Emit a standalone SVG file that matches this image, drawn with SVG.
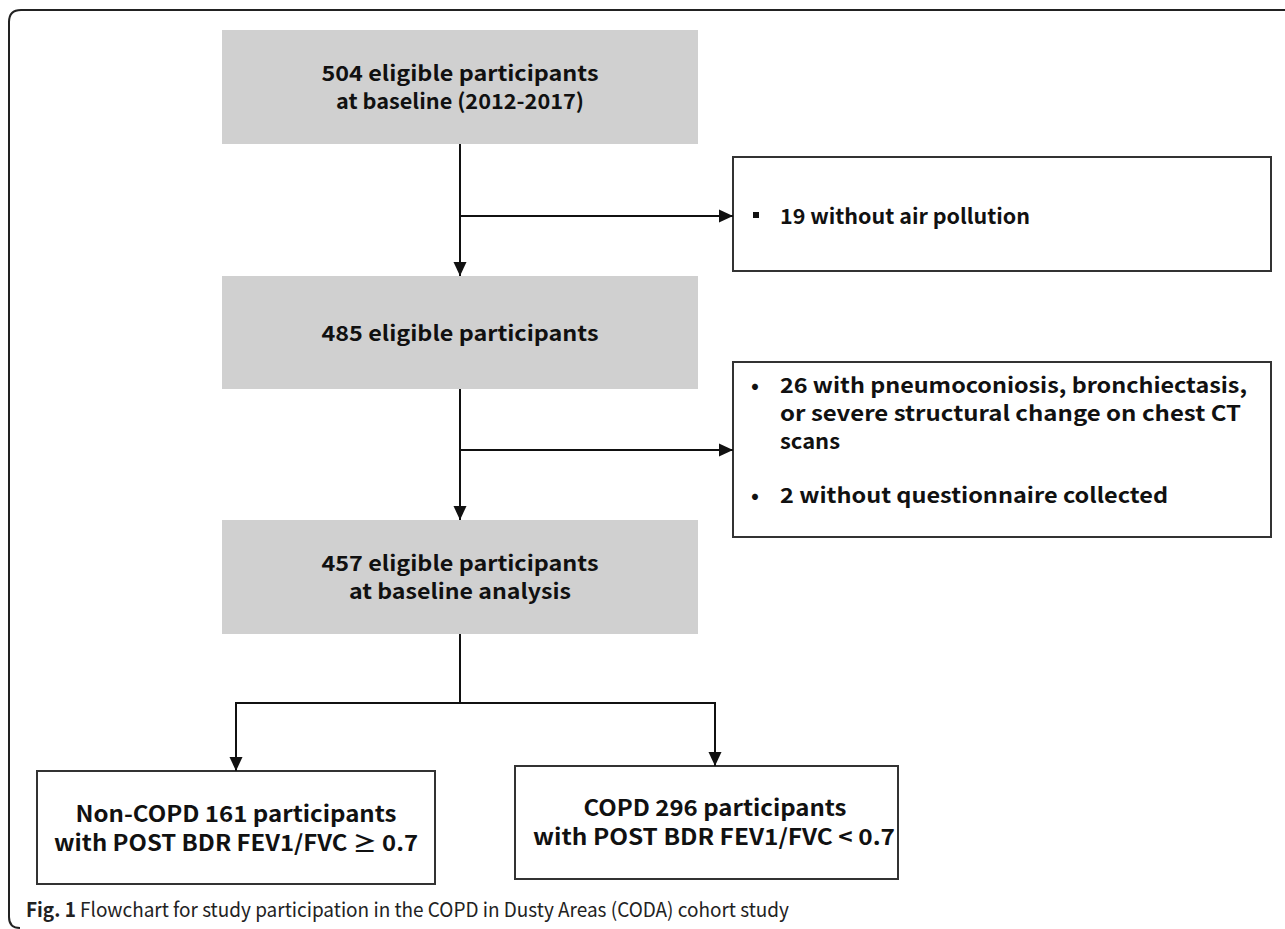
<svg xmlns="http://www.w3.org/2000/svg" width="1285" height="929" viewBox="0 0 1285 929">
<defs>
<marker id="ah" markerUnits="userSpaceOnUse" markerWidth="14" markerHeight="14" refX="14" refY="7" orient="auto">
<path d="M0,0.5 L14,7 L0,13.5 z" fill="#111"/>
</marker>
<style>
.gray{fill:#d0d0d0;stroke:none}
.wbox{fill:#fff;stroke:#333;stroke-width:2}
.t{font-family:"Noto Sans CJK KR","Noto Sans",sans-serif;font-weight:700;fill:#111;font-size:21px}
.tb{font-family:"Noto Sans CJK KR","Noto Sans",sans-serif;font-weight:700;fill:#111;font-size:22px}
.c{font-family:"Noto Sans CJK KR","Noto Sans",sans-serif;fill:#222;font-size:20px}
.ln{fill:none;stroke:#111;stroke-width:2}
</style>
</defs>
<rect width="1285" height="929" fill="#fff"/>
<path d="M1290,10 H21 Q9,10 9,22 V917 Q9,928 20,928" fill="none" stroke="#222" stroke-width="2"/>

<g id="n1">
<rect class="gray" x="222" y="30" width="476" height="114"/>
<text class="t" x="460" y="81" text-anchor="middle" textLength="277" lengthAdjust="spacingAndGlyphs">504 eligible participants</text>
<text class="t" x="460" y="109" text-anchor="middle" textLength="248" lengthAdjust="spacingAndGlyphs">at baseline (2012-2017)</text>
</g>
<g id="x1">
<rect class="wbox" x="733" y="157" width="538" height="114"/>
<rect x="753" y="212" width="6" height="6" fill="#111"/>
<text class="t" x="780" y="224" textLength="250" lengthAdjust="spacingAndGlyphs">19 without air pollution</text>
</g>
<g id="n2">
<rect class="gray" x="222" y="276" width="476" height="113"/>
<text class="t" x="460" y="341" text-anchor="middle" textLength="277" lengthAdjust="spacingAndGlyphs">485 eligible participants</text>
</g>
<g id="x2">
<rect class="wbox" x="733" y="362" width="538" height="175"/>
<text class="t" x="751" y="393">•</text>
<text class="t" x="780" y="393" textLength="467" lengthAdjust="spacingAndGlyphs">26 with pneumoconiosis, bronchiectasis,</text>
<text class="t" x="780" y="421" textLength="461" lengthAdjust="spacingAndGlyphs">or severe structural change on chest CT</text>
<text class="t" x="780" y="449" textLength="60" lengthAdjust="spacingAndGlyphs">scans</text>
<text class="t" x="751" y="503">•</text>
<text class="t" x="780" y="503" textLength="388" lengthAdjust="spacingAndGlyphs">2 without questionnaire collected</text>
</g>
<g id="n3">
<rect class="gray" x="222" y="520" width="476" height="114"/>
<text class="t" x="460" y="571" text-anchor="middle" textLength="277" lengthAdjust="spacingAndGlyphs">457 eligible participants</text>
<text class="t" x="460" y="599" text-anchor="middle" textLength="222" lengthAdjust="spacingAndGlyphs">at baseline analysis</text>
</g>
<g id="n4">
<rect class="wbox" x="37" y="771" width="398" height="113"/>
<text class="tb" x="236" y="822" text-anchor="middle" textLength="321" lengthAdjust="spacingAndGlyphs">Non-COPD 161 participants</text>
<text class="tb" x="236" y="851" text-anchor="middle" textLength="364" lengthAdjust="spacingAndGlyphs">with POST BDR FEV1/FVC ≥ 0.7</text>
</g>
<g id="n5">
<rect class="wbox" x="515" y="766" width="383" height="113"/>
<text class="tb" x="715" y="816" text-anchor="middle" textLength="263" lengthAdjust="spacingAndGlyphs">COPD 296 participants</text>
<text class="tb" x="714" y="845" text-anchor="middle" textLength="362" lengthAdjust="spacingAndGlyphs">with POST BDR FEV1/FVC &lt; 0.7</text>
</g>

<g id="connectors">
<path class="ln" d="M460,144 V276" marker-end="url(#ah)"/>
<path class="ln" d="M460,216 H733" marker-end="url(#ah)"/>
<path class="ln" d="M460,389 V520" marker-end="url(#ah)"/>
<path class="ln" d="M460,450 H733" marker-end="url(#ah)"/>
<path class="ln" d="M460,634 V703"/>
<path class="ln" d="M236,703 H715"/>
<path class="ln" d="M236,702 V771" marker-end="url(#ah)"/>
<path class="ln" d="M715,702 V766" marker-end="url(#ah)"/>
</g>

<g id="caption">
<text class="c" x="26" y="917" textLength="763" lengthAdjust="spacingAndGlyphs"><tspan font-weight="700">Fig. 1</tspan> Flowchart for study participation in the COPD in Dusty Areas (CODA) cohort study</text>
</g>
</svg>
